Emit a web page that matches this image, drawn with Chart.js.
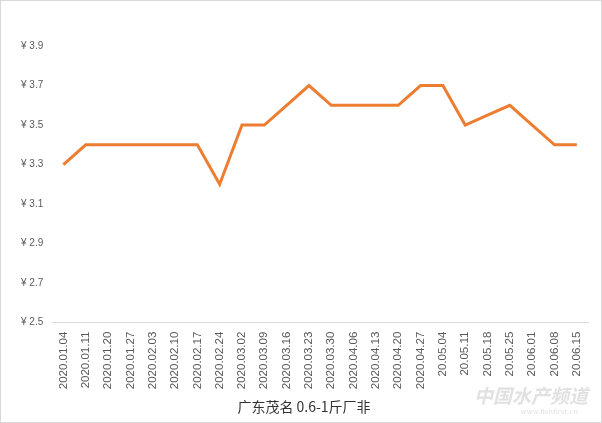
<!DOCTYPE html>
<html>
<head>
<meta charset="utf-8">
<script src="https://cdn.jsdelivr.net/npm/chart.js@4"></script>
<style>
  html, body { margin: 0; padding: 0; background: #fff; }
  #wrap { width: 602px; height: 423px; position: relative; }
</style>
</head>
<body>
<div id="wrap"><canvas id="myChart" width="602" height="423"></canvas></div>
<script>
const dates = ["2020.01.04", "2020.01.11", "2020.01.20", "2020.01.27", "2020.02.03", "2020.02.10",
  "2020.02.17", "2020.02.24", "2020.03.02", "2020.03.09", "2020.03.16", "2020.03.23", "2020.03.30",
  "2020.04.06", "2020.04.13", "2020.04.20", "2020.04.27", "20.05.04", "20.05.11", "20.05.18",
  "20.05.25", "20.06.01", "20.06.08", "20.06.15"];
const prices = [3.3, 3.4, 3.4, 3.4, 3.4, 3.4, 3.4, 3.2, 3.5, 3.5, 3.6, 3.7, 3.6,
  3.6, 3.6, 3.6, 3.7, 3.7, 3.5, 3.55, 3.6, 3.5, 3.4, 3.4];
const yTicks = [2.5, 2.7, 2.9, 3.1, 3.3, 3.5, 3.7, 3.9];
const chartTitle = "广东茂名 0.6-1斤厂非";

// light frame + faint watermark like the original picture
const frame = {
  id: 'frame',
  afterDraw(chart) {
    const c = chart.ctx;
    c.save();
    c.strokeStyle = '#d9d9d9';
    c.lineWidth = 1;
    c.strokeRect(0.5, 0.5, chart.width - 1, chart.height - 1);
    c.fillStyle = 'rgba(200,200,200,0.55)';
    c.font = 'italic bold 19px "Noto Sans CJK SC"';
    c.textAlign = 'right';
    c.fillText('中国水产频道', 588, 403);
    c.font = '7px "DejaVu Serif"';
    c.fillText('www.fishfirst.cn', 578, 414);
    c.restore();
  }
};

const ctx = document.getElementById('myChart').getContext('2d');
new Chart(ctx, {
  type: 'line',
  data: {
    labels: dates,
    datasets: [{
      data: prices,
      borderColor: '#ED7D31',
      backgroundColor: '#ED7D31',
      borderWidth: 3,
      pointRadius: 0,
      tension: 0,
      fill: false
    }]
  },
  options: {
    responsive: false,
    animation: false,
    layout: { padding: { left: 20, right: 14, top: 46, bottom: 6 } },
    plugins: {
      legend: { display: false },
      tooltip: { enabled: false },
      title: {
        display: true,
        position: 'bottom',
        text: chartTitle,
        color: '#333333',
        font: { family: '"Noto Sans CJK SC", sans-serif', size: 14, weight: 'normal' },
        padding: { top: 8, bottom: 2 }
      }
    },
    scales: {
      x: {
        offset: true,
        grid: { display: false },
        border: { display: true, color: '#d9d9d9', width: 1 },
        ticks: {
          color: '#595959',
          font: { family: 'Liberation Sans, Arial, sans-serif', size: 11.5 },
          minRotation: 90,
          maxRotation: 90,
          autoSkip: false,
          padding: 1
        }
      },
      y: {
        min: 2.5,
        max: 3.9,
        afterBuildTicks(axis) {
          axis.ticks = yTicks.map(v => ({ value: v }));
        },
        grid: { display: false },
        border: { display: false },
        ticks: {
          color: '#595959',
          font: { family: 'Liberation Sans, Arial, sans-serif', size: 10 },
          padding: 1,
          callback: v => '¥ ' + v.toFixed(1)
        }
      }
    }
  },
  plugins: [frame]
});
</script>
</body>
</html>
